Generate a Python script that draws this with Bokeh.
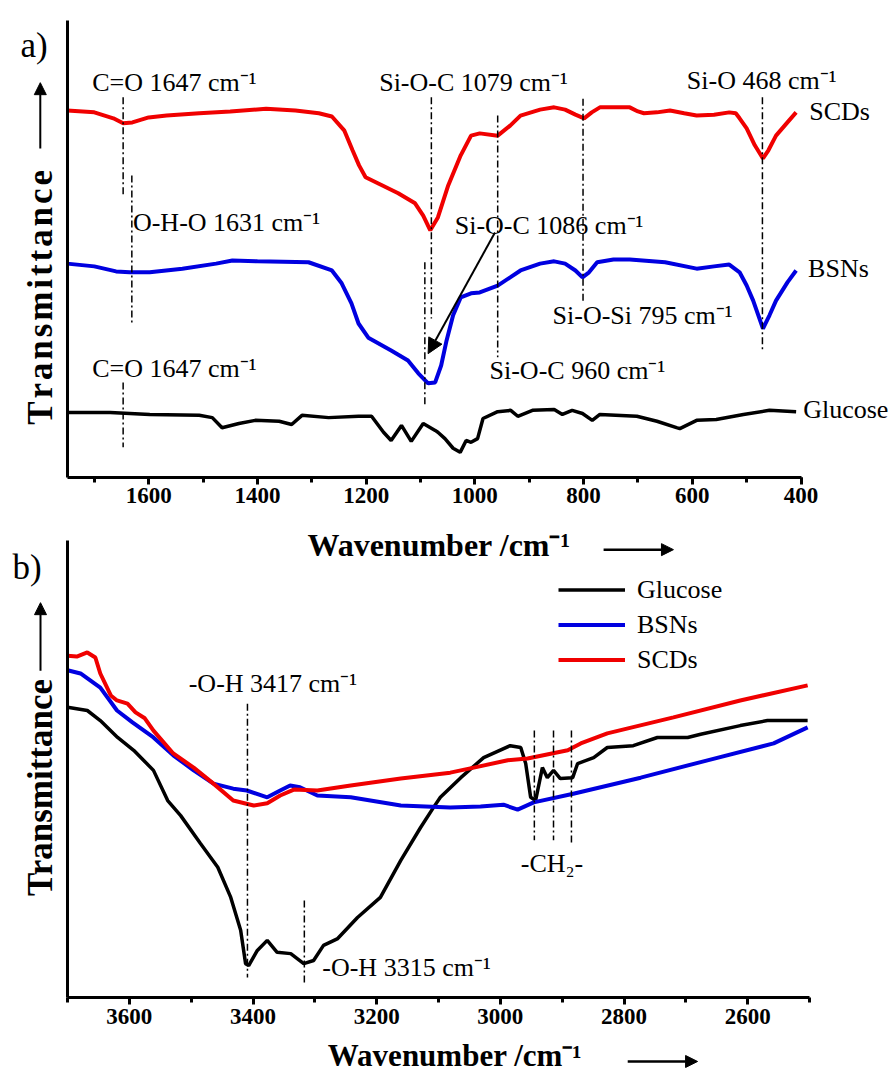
import math
from bokeh.plotting import figure
from bokeh.models import (Range1d, SingleIntervalTicker, FixedTicker, Label, Arrow,
                          NormalHead, Legend, LegendItem)
from bokeh.layouts import column
from bokeh.embed import file_html
from bokeh.resources import INLINE

SUP = "cm\u207b\u00b9"

# ---------------- panel a data (wavenumber, transmittance a.u.) ----------------
a_scd_wn = [1750,1700,1665,1647,1630,1600,1567,1507,1450,1384,1330,1287,1263,1240,1225,1213,1201,1170,1141,1110,
            1095,1082,1068,1049,1026,1007,991,958,935,916,880,854,834,815,799,785,770,740,715,700,
            689,665,641,615,592,560,532,520,513,500,485,470,460,446,425,409]
a_scd = [80.3,79.9,78.6,77.5,77.7,78.8,79.2,79.7,80.1,80.7,80.3,79.7,79.0,75.9,71.6,68.3,65.7,63.9,62.2,60.0,
         57.3,54.1,56.9,63.9,70.5,74.8,75.3,74.8,77.0,79.2,80.5,81.0,80.5,79.4,78.6,79.9,81.0,81.0,81.0,80.1,
         79.7,79.9,80.3,79.7,79.2,79.4,79.9,79.7,78.6,76.4,72.7,69.8,71.6,74.8,77.7,79.9]

a_bsn_wn = [1750,1700,1660,1635,1598,1538,1476,1446,1400,1306,1263,1245,1227,1214,1196,1154,1123,1104,1086,1073,
            1062,1052,1040,1026,1007,991,958,935,916,880,854,834,815,802,790,775,745,715,650,592,
            560,532,513,500,488,470,458,446,425,409]
a_bsn = [46.8,46.2,45.1,44.9,44.9,45.7,46.8,47.5,47.3,47.1,45.3,42.5,38.1,33.7,30.6,27.8,25.6,22.8,20.6,20.8,
         24.5,30.0,35.5,39.4,40.3,40.5,42.0,43.8,45.3,46.8,47.3,46.8,45.3,43.8,44.9,47.1,47.7,47.7,47.1,45.7,
         46.2,46.6,44.9,42.0,38.7,32.6,35.5,38.7,42.7,45.3]

a_glu_wn = [1750,1671,1598,1507,1483,1465,1434,1404,1360,1337,1318,1269,1214,1190,1168,1154,1135,1117,1095,1073,
            1068,1055,1040,1027,1016,1007,995,985,958,934,921,894,854,839,821,802,784,770,702,665,
            629,623,592,556,506,458,409]
a_glu = [14.2,14.2,13.8,13.6,13.1,10.9,11.8,12.5,12.3,11.6,13.6,13.1,13.4,13.4,9.9,8.1,11.4,7.9,11.8,10.3,
         9.9,8.5,6.4,5.5,8.1,7.7,8.5,12.9,14.4,14.7,13.4,14.7,14.9,13.8,14.7,14.0,12.5,13.8,13.4,12.3,
         10.9,10.7,12.5,12.7,13.8,14.7,14.4]

a_mark_wn = [1647, 1631, 1080, 1092, 958, 801, 471, 1647]
a_mark_top = [83.2, 66.1, 83.2, 47.1, 79.2, 82.9, 83.2, 20.8]
a_mark_bot = [61.7, 33.7, 34.8, 15.8, 26.3, 38.7, 27.8, 6.6]

a_notes = ["C=O 1647 " + SUP, "O-H-O 1631 " + SUP, "Si-O-C 1079 " + SUP, "Si-O-C 1086 " + SUP,
           "Si-O 468 " + SUP, "Si-O-Si 795 " + SUP, "Si-O-C 960 " + SUP, "C=O 1647 " + SUP]
a_note_x = [1704, 1629, 1176, 1037, 610, 857, 973, 1704]
a_note_y = [86.4, 55.8, 86.4, 55.1, 86.9, 35.5, 23.4, 23.9]

a_series = ["SCDs", "BSNs", "Glucose"]
a_series_x = [385, 387, 396]
a_series_y = [80.1, 45.7, 14.9]

a_arrow = dict(x_start=963, y_start=53.6, x_end=1086, y_end=27.1)

# ---------------- panel b data ----------------
b_scd_wn = [3700,3685,3668,3655,3647,3630,3620,3603,3590,3575,3561,3529,3496,3464,3432,3399,3377,3356,3334,3296,
            3242,3161,3081,3043,2988,2956,2891,2870,2827,2720,2612,2503]
b_scd = [74.8,74.6,75.5,74.4,70.9,66.1,65.0,64.3,62.4,61.1,58.4,53.4,50.3,46.8,43.1,42.0,42.5,44.2,45.5,45.3,
         46.4,47.9,49.2,50.3,51.9,52.3,54.1,55.6,57.8,61.3,65.0,68.3]

b_bsn_wn = [3700,3679,3647,3620,3595,3561,3529,3496,3464,3432,3410,3377,3356,3340,3324,3296,3242,3161,3081,3032,
            2995,2972,2946,2882,2773,2665,2558,2503]
b_bsn = [71.6,70.9,67.8,62.8,60.2,56.9,53.0,49.7,46.8,45.7,45.3,43.8,45.3,46.4,46.0,44.2,43.8,42.0,41.6,41.8,
         42.2,41.1,42.7,44.6,48.1,51.9,55.6,59.1]

b_glu_wn = [3700,3668,3647,3619,3593,3561,3538,3517,3485,3457,3436,3420,3412,3407,3393,3377,3361,3339,3318,3302,
            3286,3263,3231,3194,3161,3129,3108,3097,3064,3027,2984,2967,2959,2951,2943,2932,2924,2914,2903,2883,
            2875,2849,2827,2785,2746,2697,2676,2612,2568,2503]
b_glu = [63.5,62.8,60.6,56.9,54.1,49.7,43.1,39.8,33.7,28.5,21.9,14.7,7.4,7.0,10.3,12.5,9.9,9.6,7.4,8.1,
         11.4,12.9,17.5,21.9,30.0,37.2,41.6,43.8,48.1,52.5,55.1,54.7,51.2,43.8,43.1,50.3,48.1,49.7,47.9,48.1,
         51.2,52.5,54.7,55.1,56.9,56.9,57.6,59.5,60.6,60.6]

b_mark_wn = [3409, 3317, 2945, 2914, 2885]
b_mark_top = [64.3, 21.2, 58.4, 58.4, 58.4]
b_mark_bot = [4.4, 2.6, 34.4, 34.4, 33.3]

b_notes = ["-O-H 3417 " + SUP, "-O-H 3315 " + SUP, "-CH\u2082-"]
b_note_x = [3504, 3288, 2967]
b_note_y = [68.7, 6.6, 29.3]

RED, BLUE, BLACK = "#f00000", "#0000e0", "#000000"
SERIF = "Liberation Serif"


def make_fig(height, xr, yr, xbounds):
    p = figure(width=895, height=height, x_range=Range1d(*xr), y_range=Range1d(*yr),
               output_backend="svg", toolbar_location=None, title=None,
               min_border=0)
    p.grid.visible = False
    p.outline_line_color = None
    p.background_fill_color = "white"
    p.border_fill_color = "white"
    xa = p.xaxis[0]
    xa.fixed_location = 0
    xa.bounds = xbounds
    xa.ticker = SingleIntervalTicker(interval=200, num_minor_ticks=2)
    xa.axis_line_width = 3
    xa.major_tick_line_width = 3
    xa.minor_tick_line_width = 3
    xa.major_tick_out = 7
    xa.major_tick_in = 0
    xa.minor_tick_out = 5
    xa.minor_tick_in = 0
    xa.major_label_standoff = 4
    xa.major_label_text_font = SERIF
    xa.major_label_text_font_style = "bold"
    xa.major_label_text_font_size = "23px"
    xa.major_label_text_color = "black"
    ya = p.yaxis[0]
    ya.fixed_location = xbounds[1]
    ya.bounds = (0, 100)
    ya.ticker = FixedTicker(ticks=[])
    ya.axis_line_width = 3
    ya.major_tick_line_color = None
    ya.minor_tick_line_color = None
    ya.major_label_text_font_size = "0px"
    return p


def note(p, text, x, y, size="26px", bold=False, align="left", angle=0.0):
    p.add_layout(Label(x=x, y=y, text=text, text_font=SERIF, text_font_size=size,
                       text_font_style="bold" if bold else "normal", text_color="black",
                       text_baseline="middle", text_align=align, angle=angle))


def arrow(p, x0, y0, x1, y1, size=12, width=2):
    p.add_layout(Arrow(end=NormalHead(size=size, fill_color="black", line_color="black"),
                       x_start=x0, y_start=y0, x_end=x1, y_end=y1,
                       line_width=width, line_color="black"))


# ---------------- panel a ----------------
pa = make_fig(522, (1872.6, 226.2), (-9.85, 104.38), (400, 1750))

pa.line(a_scd_wn, a_scd, line_color=RED, line_width=4)
pa.line(a_bsn_wn, a_bsn, line_color=BLUE, line_width=4)
pa.line(a_glu_wn, a_glu, line_color=BLACK, line_width=3.5)
pa.segment(x0=a_mark_wn, y0=a_mark_top, x1=a_mark_wn, y1=a_mark_bot,
           line_color="black", line_width=1.5, line_dash="7 3 2 3")
for t, x, y in zip(a_notes, a_note_x, a_note_y):
    note(pa, t, x, y)
for t, x, y in zip(a_series, a_series_x, a_series_y):
    note(pa, t, x, y)
arrow(pa, a_arrow["x_start"], a_arrow["y_start"], a_arrow["x_end"], a_arrow["y_end"], size=15)
note(pa, "a)", 1836, 94.5, size="35px")
# y title
note(pa, "\u200a".join("Transmittance"), 1799.4, 39.4, size="35px", bold=True,
     align="center", angle=math.pi / 2)
arrow(pa, 1799.4, 72.0, 1799.4, 86.4, size=12, width=2)

# ---------------- panel b ----------------
pb = make_fig(551, (3808.4, 2360.9), (-16.63, 103.94), (2500, 3700))

r_glu = pb.line(b_glu_wn, b_glu, line_color=BLACK, line_width=3.5)
r_bsn = pb.line(b_bsn_wn, b_bsn, line_color=BLUE, line_width=4)
r_scd = pb.line(b_scd_wn, b_scd, line_color=RED, line_width=4)
pb.segment(x0=b_mark_wn, y0=b_mark_top, x1=b_mark_wn, y1=b_mark_bot,
           line_color="black", line_width=1.5, line_dash="7 3 2 3")
for t, x, y in zip(b_notes, b_note_x, b_note_y):
    note(pb, t, x, y)
note(pb, "b)", 3789, 94.1, size="35px")
note(pb, "Transmittance", 3743.7, 45.95, size="35px", bold=True,
     align="center", angle=math.pi / 2)
arrow(pb, 3743.7, 71.5, 3743.7, 86.4, size=12, width=2)

legend = Legend(items=[LegendItem(label="Glucose", renderers=[r_glu]),
                       LegendItem(label="BSNs", renderers=[r_bsn]),
                       LegendItem(label="SCDs", renderers=[r_scd])],
                location=(558, 396), glyph_width=67, glyph_height=35, label_height=35,
                label_standoff=12, padding=0, spacing=0, margin=0,
                border_line_color=None, background_fill_alpha=0,
                label_text_font=SERIF, label_text_font_size="26px",
                label_text_color="black")
pb.add_layout(legend)

# x-axis titles (panel a's title sits just over panel b's top edge)
note(pb, "Wavenumber /" + SUP, 3312, 99.1, size="32px", bold=True)
arrow(pb, 2833, 98.0, 2720, 98.0, size=12, width=2.5)
note(pb, "Wavenumber /" + SUP, 3279, -12.7, size="31px", bold=True)
arrow(pb, 2794, -14.0, 2681, -14.0, size=12, width=2.5)

page = column(pa, pb, spacing=0)
open("out.html", "w").write(file_html(page, INLINE))
